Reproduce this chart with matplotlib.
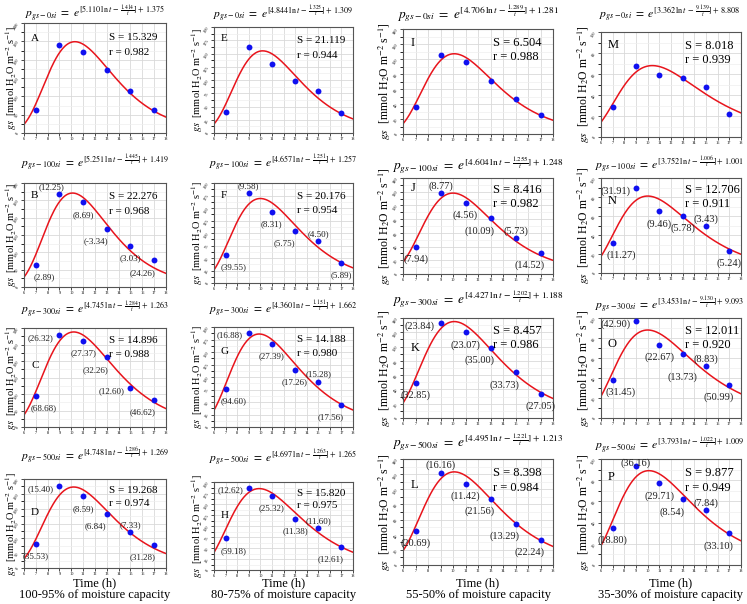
import numpy as np
import matplotlib
matplotlib.use("Agg")
import matplotlib.pyplot as plt

plt.rcParams['font.family'] = ['Liberation Serif', 'DejaVu Serif']
plt.rcParams['mathtext.fontset'] = 'stix'

W, H = 747, 604

# hours of measurement
hours = [7, 9, 11, 13, 15, 17]

# panel letters, column by column
letters = ["A", "B", "C", "D", "E", "F", "G", "H",
           "I", "J", "K", "L", "M", "N", "O", "P"]
doses = ["0si", "100si", "300si", "500si"] * 4

gs = [
    [62, 239, 222, 173, 115, 62],
    [64, 269, 244, 168, 118, 77],
    [94, 278, 261, 211, 117, 83],
    [81, 276, 242, 183, 121, 78],
    [40, 162, 131, 99, 79, 38],
    [57, 180, 143, 105, 84, 40],
    [77, 189, 166, 115, 91, 44],
    [72, 187, 168, 116, 96, 52],
    [36, 106, 96, 71, 47, 26],
    [40, 118, 104, 81, 52, 31],
    [49, 133, 120, 98, 64, 34],
    [45, 122, 107, 87, 54, 33],
    [29, 68, 59, 56, 48, 22],
    [32, 89, 65, 60, 49, 23],
    [38, 97, 73, 64, 52, 33],
    [35, 93, 77, 62, 52, 30],
]

# fitted curve: peak time, peak value, shape
peak_t = [10.3, 10.1, 10.2, 10.2, 10.2, 10.0, 9.9, 9.9,
          10.1, 10.0, 10.1, 10.1, 10.4, 10.0, 10.0, 10.1]
peak_y = [249, 271, 288, 273, 155, 169, 186, 185,
          107, 118, 135, 123, 68, 81, 88, 89]
shape = [13.4, 13.9, 12.2, 12.8, 13.1, 12.0, 11.5, 10.3,
         12.7, 12.4, 11.5, 11.6, 8.6, 9.85, 9.0, 9.8]

# equation coefficients
coef_a = ["5.110", "5.251", "4.745", "4.748", "4.844", "4.657", "4.360", "4.697",
          "4.706", "4.604", "4.427", "4.495", "3.362", "3.752", "3.453", "3.793"]
coef_b = ["1.414", "1.445", "1.284", "1.286", "1.325", "1.251", "1.151", "1.263",
          "1.289", "1.255", "1.202", "1.221", "9.139", "1.006", "9.130", "1.022"]
coef_c = ["1.375", "1.419", "1.263", "1.269", "1.309", "1.257", "1.662", "1.265",
          "1.281", "1.248", "1.188", "1.213", "8.808", "1.001", "9.093", "1.009"]

S_vals = ["15.329", "22.276", "14.896", "19.268", "21.119", "20.176", "14.188", "15.820",
          "6.504", "8.416", "8.457", "8.398", "8.018", "12.706", "12.011", "9.877"]
r_vals = ["0.982", "0.968", "0.988", "0.974", "0.944", "0.954", "0.980", "0.975",
          "0.988", "0.982", "0.986", "0.984", "0.939", "0.911", "0.920", "0.949"]

# residual labels (none for the 0si panels)
point_labels = {
    "B": ["(2.89)", "(12.25)", "(8.69)", "(-3.34)", "(3.03)", "(24.26)"],
    "C": ["(68.68)", "(26.32)", "(27.37)", "(32.26)", "(12.60)", "(46.62)"],
    "D": ["(35.53)", "(15.40)", "(8.59)", "(6.84)", "(7.33)", "(31.28)"],
    "F": ["(39.55)", "(9.58)", "(8.31)", "(5.75)", "(4.50)", "(5.89)"],
    "G": ["(94.60)", "(16.88)", "(27.39)", "(17.26)", "(15.28)", "(17.56)"],
    "H": ["(59.18)", "(12.62)", "(25.32)", "(11.38)", "(11.60)", "(12.61)"],
    "J": ["(7.94)", "(8.77)", "(4.56)", "(10.09)", "(5.73)", "(14.52)"],
    "K": ["(32.85)", "(23.84)", "(23.07)", "(35.00)", "(33.73)", "(27.05)"],
    "L": ["(20.69)", "(16.16)", "(11.42)", "(21.56)", "(13.29)", "(22.24)"],
    "N": ["(11.27)", "(31.91)", "(9.46)", "(5.78)", "(3.43)", "(5.24)"],
    "O": ["(31.45)", "(42.90)", "(22.67)", "(13.73)", "(8.83)", "(50.99)"],
    "P": ["(18.80)", "(36.16)", "(29.71)", "(8.54)", "(7.84)", "(33.10)"],
}
label_pos = {
    "B": ["br", "al", "b", "bl", "b", "bl"],
    "C": ["br", "l", "b", "bl", "l", "bl"],
    "D": ["b", "l", "b", "bl", "a", "bl"],
    "F": ["br", "a", "b", "bl", "a", "b"],
    "G": ["br", "l", "b", "b", "a", "bl"],
    "H": ["br", "l", "b", "b", "a", "bl"],
    "J": ["b", "a", "b", "bl", "a", "bl"],
    "K": ["b", "l", "b", "bl", "bl", "b"],
    "L": ["b", "a", "b", "bl", "bl", "bl"],
    "N": ["br", "l", "b", "b", "a", "b"],
    "O": ["br", "l", "b", "bb", "a", "bl"],
    "P": ["b", "a2", "b", "bl", "a", "bl"],
}
offsets = {"b": (0, -9, "center"), "a": (0, 5, "center"), "a2": (0, 2, "center"),
           "l": (-4, -2, "right"),
           "al": (-6, 5, "center"), "bl": (-8, -9, "center"), "br": (6, -9, "center"),
           "bb": (0, -17, "center")}

ymax_col = [300, 200, 140, 100]
ystep_col = [50, 25, 20, 20]
captions = ["100-95% of moisture capacity", "80-75% of moisture capacity",
            "55-50% of moisture capacity", "35-30% of moisture capacity"]

# axes boxes in pixels: left, right per column; top, bottom per panel
col_lr = [(24, 166), (214, 353), (403, 553), (601, 741)]
rows_tb = [
    [(23, 133), (183, 287), (328, 427), (479, 568)],
    [(27, 133), (183, 283), (327, 427), (482, 570)],
    [(29, 134), (178, 274), (318, 418), (459, 565)],
    [(32, 137), (178, 273), (318, 418), (459, 565)],
]
title_y = [[13, 163, 309, 456], [14, 163, 309, 458], [14, 166, 300, 443], [14, 165, 305, 445]]
title_x = [95, 283, 478, 670]
title_fs = [8.3, 8.3, 9.6, 8.4]
ylab_x = [11, 197, 385, 584]
letter_y = [[0.86, 0.88, 0.62, 0.62], [0.89, 0.88, 0.75, 0.62],
            [0.87, 0.9, 0.7, 0.75], [0.88, 0.76, 0.74, 0.83]]

fig = plt.figure(figsize=(W / 100, H / 100), dpi=100)
tt = np.linspace(6, 18, 200)

for c in range(4):
    big = c >= 2
    fs_txt = 9 if big else 8
    fs_lab = 7.5 if big else 6.5
    for r in range(4):
        i = c * 4 + r
        L, R = col_lr[c]
        T, B = rows_tb[c][r]
        ax = fig.add_axes([L / W, 1 - B / H, (R - L) / W, (B - T) / H])
        ymax = ymax_col[c]
        ax.set_xlim(6, 18)
        ax.set_ylim(0, ymax)
        ax.set_xticks(range(6, 19))
        ax.set_yticks(np.arange(0, ymax + 1, ystep_col[c]))
        ax.set_yticks(np.arange(0, ymax + 1, ystep_col[c] / 2), minor=True)
        ax.grid(True, which='major', color='#d9d9d9', lw=0.6)
        ax.grid(True, which='minor', axis='y', color='#eeeeee', lw=0.5)
        ax.tick_params(axis='both', labelsize=3.2, length=2, width=0.5, pad=1)
        ax.tick_params(axis='y', labelrotation=60)
        for sp in ax.spines.values():
            sp.set_color('#555555')
            sp.set_linewidth(0.8)
        ax.set_axisbelow(True)

        ax.plot(tt, peak_y[i] * np.exp(-shape[i] * (np.log(tt / peak_t[i]) + peak_t[i] / tt - 1)),
                color='#e8141c', lw=1.1, zorder=2)
        ax.scatter(hours, gs[i], s=18, color='#1010f0', zorder=3, linewidths=0)

        let = letters[i]
        if let in point_labels:
            for h, v, txt, pc in zip(hours, gs[i], point_labels[let], label_pos[let]):
                dx, dy, ha = offsets[pc]
                ax.annotate(txt, (h, v), xytext=(dx, dy), textcoords='offset points',
                            ha=ha, va='center', fontsize=fs_lab, color='#222222')

        ax.text(0.05, letter_y[c][r], let, transform=ax.transAxes, fontsize=fs_txt,
                va='center')
        ax.text(0.6, 0.87, "S = " + S_vals[i], transform=ax.transAxes,
                fontsize=fs_txt, va='center')
        ax.text(0.6, 0.73, "r = " + r_vals[i], transform=ax.transAxes,
                fontsize=fs_txt, va='center')

        eq = (r"$p_{gs-%s}\ =\ e^{[%s\,\ln t\,-\,\frac{%s}{t}]+\,%s}$"
              % (doses[i], coef_a[i], coef_b[i], coef_c[i]))
        fig.text(title_x[c] / W, 1 - title_y[c][r] / H, eq, ha='center', va='center',
                 fontsize=title_fs[c])

        fig.text(ylab_x[c] / W, 1 - (T + B) / 2 / H,
                 r"$gs$  [mmol H$_2$O m$^{-2}$ s$^{-1}$]", rotation=90,
                 ha='center', va='center', fontsize=8.5 if big else 7.5)

    L, R = col_lr[c]
    fig.text((L + R) / 2 / W, 1 - 583 / H, "Time (h)", ha='center', va='center', fontsize=9)
    fig.text((L + R) / 2 / W, 1 - 595 / H, captions[c], ha='center', va='center', fontsize=9)

fig.savefig("out.png", dpi=100)
